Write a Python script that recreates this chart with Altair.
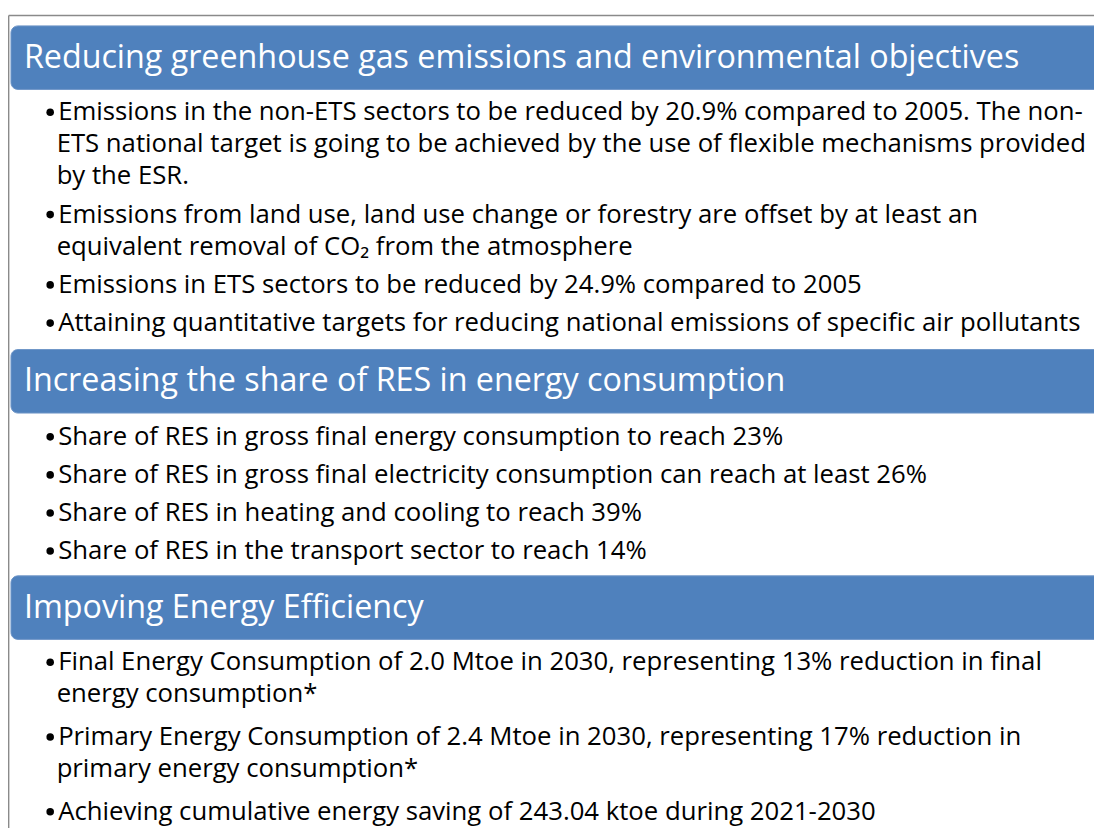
import altair as alt
import pandas as pd

# ---- content ----
HEADERS = [
    "Reducing greenhouse gas emissions and environmental objectives",
    "Increasing the share of RES in energy consumption",
    "Impoving Energy Efficiency",
]

SECTION_1 = [
    ["Emissions in the non-ETS sectors to be reduced by 20.9% compared to 2005. The non-",
     "ETS national target is going to be achieved by the use of flexible mechanisms provided",
     "by the ESR."],
    ["Emissions from land use, land use change or forestry are offset by at least an",
     "equivalent removal of CO\u2082 from the atmosphere"],
    ["Emissions in ETS sectors to be reduced by 24.9% compared to 2005"],
    ["Attaining quantitative targets for reducing national emissions of specific air pollutants"],
]
SECTION_2 = [
    ["Share of RES in gross final energy consumption to reach 23%"],
    ["Share of RES in gross final electricity consumption can reach at least 26%"],
    ["Share of RES in heating and cooling to reach 39%"],
    ["Share of RES in the transport sector to reach 14%"],
]
SECTION_3 = [
    ["Final Energy Consumption of 2.0 Mtoe in 2030, representing 13% reduction in final",
     "energy consumption*"],
    ["Primary Energy Consumption of 2.4 Mtoe in 2030, representing 17% reduction in",
     "primary energy consumption*"],
    ["Achieving cumulative energy saving of 243.04 ktoe during 2021-2030"],
]
SECTIONS = [SECTION_1, SECTION_2, SECTION_3]

# ---- layout (page pixel space) ----
W, H = 1102, 831
HEADER_TOPS = [23, 349, 577]
HEADER_H = 64
TITLE_BASE = 42
FIRST_GAP = [31, 32, 31]
WRAP = 32.3
NEXT = [38.5, 38.3, 43]
BULLET_RISE = 8
BLUE = "#4F81BD"
FONT = "Open Sans"
BODY_SIZE = 25.9
TITLE_SIZE = 32.5

headers, titles, bullets, lines = [], [], [], []
for si, (title, sec) in enumerate(zip(HEADERS, SECTIONS)):
    top = HEADER_TOPS[si]
    headers.append({"x": 11, "x2": W + 30, "y": top, "y2": top + HEADER_H})
    titles.append({"x": 24, "y": top + TITLE_BASE, "t": title})
    base = top + HEADER_H + FIRST_GAP[si]
    for bi, blines in enumerate(sec):
        if bi > 0:
            base += NEXT[si]
        for li, txt in enumerate(blines):
            if li > 0:
                base += WRAP
            if li == 0:
                bullets.append({"x": 50.5, "y": base - BULLET_RISE})
            lines.append({"x": 58.5 if li == 0 else 57, "y": base, "t": txt})

xs = alt.Scale(domain=[8, W], nice=False, zero=False)
ys = alt.Scale(domain=[8, H], nice=False, zero=False, reverse=True)
X = alt.X("x:Q", scale=xs, axis=None)
Y = alt.Y("y:Q", scale=ys, axis=None)

border = pd.DataFrame([
    {"x": 8.7, "x2": 8.7, "y": 12.5, "y2": H},
    {"x": 8.7, "x2": W, "y": 12.5, "y2": 12.5},
])
border_layer = alt.Chart(border).mark_rule(color="#8a8a8a", strokeWidth=1.4).encode(
    x=X, x2="x2:Q", y=Y, y2="y2:Q")

header_layer = alt.Chart(pd.DataFrame(headers)).mark_rect(
    color=BLUE, cornerRadius=7, clip=True, stroke="#7096c8", strokeWidth=1
).encode(x=X, x2="x2:Q", y=Y, y2="y2:Q")

title_layer = alt.Chart(pd.DataFrame(titles)).mark_text(
    align="left", baseline="alphabetic", font=FONT, fontSize=TITLE_SIZE, color="white"
).encode(x=X, y=Y, text="t:N")

bullet_layer = alt.Chart(pd.DataFrame(bullets)).mark_point(
    shape="circle", filled=True, color="black", size=58, opacity=1
).encode(x=X, y=Y)

line_layer = alt.Chart(pd.DataFrame(lines)).mark_text(
    align="left", baseline="alphabetic", font=FONT, fontSize=BODY_SIZE, color="black"
).encode(x=X, y=Y, text="t:N")

chart = alt.layer(border_layer, header_layer, title_layer, bullet_layer, line_layer).properties(
    width=W - 8, height=H - 8, padding=0, autosize=alt.AutoSizeParams(type="none")
).configure_view(stroke=None)

chart.save("out.html", embed_options={"renderer": "svg", "actions": False})
